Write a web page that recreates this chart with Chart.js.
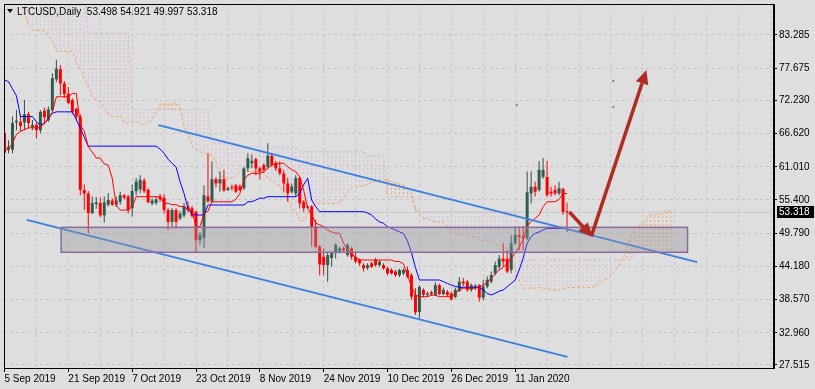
<!DOCTYPE html>
<html>
<head>
<meta charset="utf-8">
<script src="https://cdn.jsdelivr.net/npm/chart.js@4.4.0/dist/chart.umd.min.js"></script>
<style>
  html, body { margin: 0; padding: 0; background: #dedede; }
  #wrap { width: 815px; height: 389px; }
</style>
</head>
<body>
<div id="wrap"><canvas id="chart" width="815" height="389"></canvas></div>
<script>
// LTCUSD daily bars, index 0 = 5 Sep 2019, last bar (141) = 24 Jan 2020
const openP = [
  66.7, 63.9, 63.9, 68.5, 68.6, 68.5, 69.9, 67.7, 68.1, 67.2,
  70.5, 68.9, 70.6, 75.8, 77.5, 75.1, 73.4, 72.3, 70.8, 69.5,
  57.1, 56.5, 53.2, 54.7, 54.9, 52.8, 54.6, 55.3, 54.6, 55.1,
  56.2, 56.0, 54.0, 56.9, 57.2, 58.7, 57.1, 54.8, 54.9, 56.0,
  55.8, 53.7, 51.7, 53.7, 52.3, 52.8, 54.3, 54.0, 53.4, 48.6,
  49.0, 56.0, 55.1, 58.9, 58.2, 58.9, 57.1, 57.6, 57.9, 57.7,
  57.4, 60.75, 61.6, 62.3, 60.75, 61.3, 61.0, 62.9, 61.6, 60.75,
  59.9, 58.2, 56.8, 56.5, 59.1, 55.1, 54.1, 54.3, 50.9, 47.5,
  45.8, 44.4, 45.6, 46.4, 46.66, 47.24, 46.1, 47.24, 45.8, 45.26,
  44.4, 43.9, 44.7, 45.3, 44.4, 44.4, 43.85, 43.57, 43.3, 42.7,
  43.0, 43.57, 42.7, 39.35, 36.5, 40.2, 39.35, 39.8, 39.35, 41.0,
  39.5, 39.9, 39.6, 39.0, 40.0, 41.6, 41.6, 40.2, 40.5, 41.0,
  38.9, 40.75, 41.6, 43.0, 44.1, 45.5, 45.5, 43.6, 48.1, 49.5,
  49.3, 48.9, 56.5, 57.65, 57.1, 59.3, 59.3, 56.8, 57.1, 56.5,
  57.3, 53.498
];
const highP = [
  67.2, 65.5, 69.5, 70.6, 69.8, 72.3, 70.3, 68.9, 68.5, 70.6,
  71.0, 71.2, 76.8, 79.1, 78.2, 75.5, 74.5, 72.6, 71.0, 69.9,
  58.0, 56.9, 56.0, 55.9, 55.8, 56.0, 56.6, 55.7, 56.0, 56.8,
  56.4, 56.3, 58.0, 59.1, 59.6, 59.1, 57.4, 55.7, 56.0, 56.4,
  56.4, 54.0, 54.0, 54.0, 53.5, 54.9, 55.2, 54.4, 53.6, 50.0,
  57.9, 63.3, 61.9, 59.3, 60.2, 60.5, 57.7, 58.0, 58.1, 58.0,
  61.0, 63.3, 63.1, 62.6, 61.0, 61.6, 65.0, 63.1, 62.0, 61.9,
  60.47, 59.1, 58.2, 59.6, 59.3, 55.4, 54.5, 54.5, 52.0, 47.8,
  47.2, 46.66, 46.66, 48.1, 47.5, 47.5, 48.1, 47.5, 46.66, 45.5,
  44.7, 44.7, 44.97, 45.6, 45.2, 44.7, 44.1, 43.85, 43.6, 43.8,
  43.85, 44.1, 43.0, 40.5, 41.0, 40.5, 39.9, 40.1, 41.5, 41.3,
  40.6, 40.2, 39.9, 40.6, 42.4, 42.2, 41.9, 41.3, 41.2, 41.2,
  41.9, 42.5, 43.3, 45.0, 46.1, 48.1, 47.0, 49.5, 50.9, 50.9,
  50.9, 60.2, 60.2, 58.5, 62.0, 62.5, 62.0, 57.65, 57.9, 58.5,
  57.4, 54.92
];
const lowP = [
  63.0, 63.3, 63.3, 67.2, 66.9, 67.2, 67.5, 67.2, 65.8, 66.7,
  68.2, 68.6, 70.3, 75.3, 73.1, 72.7, 71.6, 69.9, 68.8, 56.2,
  53.7, 49.8, 53.0, 53.9, 52.5, 51.6, 54.3, 54.4, 54.2, 54.6,
  55.5, 53.1, 52.6, 56.2, 56.6, 56.6, 54.9, 54.5, 54.6, 55.1,
  53.1, 50.3, 50.6, 50.5, 52.0, 52.5, 53.3, 52.4, 46.5, 47.8,
  47.3, 54.9, 55.0, 57.5, 56.8, 56.8, 56.9, 57.0, 56.6, 56.9,
  57.1, 60.2, 60.8, 59.6, 58.9, 60.0, 60.75, 61.0, 60.3, 59.6,
  56.8, 55.1, 56.5, 55.96, 54.0, 53.4, 53.9, 47.5, 47.2, 42.7,
  42.7, 41.6, 44.1, 45.5, 46.4, 46.6, 45.8, 45.3, 44.7, 44.3,
  43.3, 43.57, 43.9, 44.1, 44.1, 43.6, 42.7, 42.8, 42.4, 42.4,
  42.7, 42.2, 38.5, 35.97, 35.4, 38.9, 39.0, 39.2, 39.2, 39.3,
  39.3, 39.0, 38.4, 38.8, 39.9, 40.8, 39.9, 39.9, 40.2, 38.2,
  38.5, 40.5, 41.3, 42.7, 43.6, 44.1, 43.0, 43.0, 47.8, 46.9,
  46.9, 48.6, 54.8, 56.0, 56.8, 59.0, 55.96, 55.96, 56.2, 56.2,
  52.9, 49.997
];
const closeP = [
  63.35, 64.4, 68.4, 68.8, 67.9, 69.9, 68.4, 68.1, 67.2, 70.3,
  69.4, 70.7, 76.0, 77.6, 75.1, 73.3, 71.8, 70.3, 69.5, 57.1,
  56.5, 53.2, 54.9, 55.0, 52.8, 55.0, 55.4, 54.6, 55.3, 56.2,
  55.8, 53.7, 56.9, 58.5, 58.8, 56.9, 55.0, 55.3, 55.5, 55.5,
  53.7, 51.7, 53.7, 51.7, 53.1, 54.3, 53.7, 52.7, 48.6, 49.5,
  56.2, 55.2, 58.9, 58.2, 58.9, 57.0, 57.4, 57.4, 56.8, 57.1,
  60.75, 62.45, 62.0, 60.75, 60.2, 60.5, 62.9, 61.3, 60.75, 59.9,
  58.2, 56.5, 57.65, 59.1, 54.84, 54.0, 54.3, 50.9, 47.5, 44.5,
  44.4, 46.1, 46.4, 47.8, 47.24, 46.9, 47.8, 45.8, 45.0, 44.7,
  43.85, 44.4, 44.1, 44.4, 44.97, 43.85, 43.0, 43.0, 42.7, 43.57,
  43.57, 42.44, 39.06, 36.4, 40.7, 39.4, 39.6, 39.5, 41.0, 39.5,
  40.2, 39.35, 38.6, 40.2, 41.6, 41.3, 40.2, 41.0, 40.9, 38.9,
  40.75, 41.9, 42.7, 44.4, 45.5, 45.0, 43.3, 48.1, 49.5, 49.2,
  48.9, 56.7, 57.65, 56.8, 60.5, 60.5, 56.2, 56.5, 56.5, 57.4,
  53.4, 53.318
];

// Ichimoku: tenkan (red), kijun (blue)
const tenkan = [
  64.0, 64.0, 65.0, 66.5, 67.0, 67.3, 67.6, 67.6, 67.6, 67.6,
  68.5, 69.0, 70.3, 72.85, 72.85, 72.85, 72.85, 73.4, 73.4, 68.1,
  67.0, 64.4, 63.5, 62.5, 62.5, 61.5, 61.3, 59.1, 54.5, 53.7,
  53.7, 53.7, 54.3, 55.96, 55.96, 55.96, 55.96, 55.96, 55.96, 55.96,
  54.84, 54.84, 54.6, 54.6, 54.3, 54.3, 53.7, 53.7, 50.9, 50.9,
  53.1, 53.5, 55.1, 55.1, 55.1, 55.1, 55.1, 55.1, 55.5, 56.5,
  58.8, 59.6, 59.9, 59.9, 59.9, 60.2, 60.75, 61.3, 61.6, 61.6,
  61.6, 61.0, 60.5, 60.2, 59.3, 57.0, 54.0, 52.9, 51.5, 51.2,
  50.9, 50.3, 50.0, 49.8, 49.77, 48.1, 47.0, 46.4, 45.6, 45.3,
  45.26, 45.26, 45.26, 45.26, 45.26, 45.26, 45.26, 45.26, 45.0, 45.0,
  44.6, 42.7, 40.75, 39.35, 39.06, 39.06, 39.06, 39.3, 39.3, 39.06,
  39.06, 39.06, 39.06, 39.6, 40.2, 40.5, 40.5, 40.5, 40.5, 40.75,
  41.0, 41.5, 42.2, 42.9, 43.57, 44.0, 44.7, 45.5, 46.4, 47.5,
  48.64, 51.0, 51.74, 52.3, 52.86, 54.27, 55.1, 55.1, 55.1, 55.5,
  56.5, 56.5
];
const kijun = [
  75.68, 75.4, 74.2, 73.0, 69.5, 69.5, 69.5, 69.5, 68.6, 68.07,
  68.35, 69.2, 70.05, 70.3, 70.3, 70.3, 70.3, 70.3, 69.0, 67.5,
  66.0, 64.5, 64.5, 64.5, 64.5, 64.5, 64.5, 64.5, 64.5, 64.5,
  64.5, 64.5, 64.5, 64.5, 64.5, 64.5, 64.5, 64.5, 64.5, 64.0,
  63.3, 62.3, 61.6, 61.0, 58.5, 56.5, 54.0, 53.0, 52.86, 52.86,
  52.86, 54.55, 54.55, 54.55, 54.55, 54.55, 54.55, 54.55, 54.55, 54.55,
  54.55, 55.1, 55.1, 55.4, 55.7, 55.7, 55.96, 55.96, 55.96, 55.96,
  55.96, 55.96, 55.96, 55.96, 56.5, 58.0, 59.07, 55.4, 54.27, 53.43,
  53.43, 53.43, 53.43, 53.43, 53.43, 53.43, 53.43, 53.43, 53.43, 53.43,
  53.43, 53.2, 52.86, 52.2, 51.7, 51.46, 50.9, 50.6, 50.33, 50.0,
  49.77, 48.5, 46.5, 44.0, 41.88, 41.88, 41.88, 41.88, 41.88, 41.88,
  41.6, 41.3, 41.03, 40.8, 40.64, 40.64, 40.64, 40.64, 40.64, 40.64,
  40.2, 39.6, 39.35, 39.63, 40.0, 40.19, 40.75, 41.3, 41.88, 43.57,
  45.55, 48.08, 49.2, 49.77, 50.0, 50.33, 50.6, 50.6, 50.6, 50.6,
  50.6, 50.6
];
// cloud edges, running 26 bars past the last candle (index 0..167)
const spanA = [
  90, 90, 90, 90, 89, 87, 85.0, 84.1, 84.1, 84.0,
  84.0, 83.2, 82.4, 80.5, 80.5, 80.5, 80.5, 80.5, 78.6, 77.5,
  76.0, 74.5, 72.8, 72.3, 72.0, 71.0, 69.8, 69.5, 69.5, 69.7,
  68.5, 68.4, 68.6, 68.6, 68.3, 68.0, 68.4, 69.0, 70.1, 71.6,
  71.6, 71.6, 71.6, 71.9, 71.2, 67.8, 66.5, 64.5, 64.0, 63.5,
  63.5, 63.0, 62.9, 61.8, 59.5, 59.1, 59.1, 59.1, 59.4, 60.2,
  60.2, 60.2, 60.2, 60.2, 60.2, 60.0, 59.1, 58.6, 58.1, 57.8,
  56.4, 55.4, 53.9, 53.4, 51.9, 51.9, 53.0, 54.0, 54.8, 54.8,
  54.8, 54.8, 54.8, 54.8, 55.0, 55.5, 56.7, 57.4, 57.5, 57.7,
  57.8, 58.0, 58.4, 58.6, 58.8, 58.8, 58.8, 58.5, 58.2, 58.1,
  57.9, 57.5, 56.5, 54.2, 52.9, 52.3, 52.2, 51.9, 51.7, 51.6,
  51.6, 50.8, 50.2, 49.9, 49.5, 49.4, 49.4, 49.2, 49.1, 48.7,
  48.5, 48.4, 48.1, 47.9, 47.7, 47.5, 47.2, 45.6, 43.6, 41.7,
  40.5, 40.5, 40.5, 40.5, 40.6, 40.5, 40.3, 40.2, 40.1, 40.2,
  40.4, 40.6, 40.6, 40.6, 40.6, 40.7, 40.6, 40.6, 40.8, 41.3,
  41.8, 42.1, 42.7, 43.4, 44.1, 45.5, 47.1, 49.5, 50.5, 51.0,
  51.4, 52.3, 52.9, 52.9, 52.9, 53.1, 53.6, 53.6
];
const spanB = [
  90, 90, 90, 90, 90, 90, 90, 90, 90, 90,
  90, 90, 90, 90, 90, 90, 90, 90, 90, 90,
  90, 83.6, 83.6, 83.6, 83.6, 83.6, 83.6, 83.6, 83.6, 83.6,
  83.6, 83.6, 70.7, 70.7, 70.7, 70.7, 70.7, 70.7, 70.7, 70.7,
  70.7, 70.7, 70.7, 70.7, 70.7, 70.7, 70.7, 70.7, 70.7, 70.7,
  70.7, 70.7, 65.0, 65.0, 65.0, 65.0, 65.0, 65.0, 65.0, 64.4,
  64.4, 64.4, 64.4, 64.4, 64.4, 64.4, 64.4, 64.4, 64.4, 64.4,
  64.4, 64.4, 64.4, 64.4, 63.6, 63.6, 63.6, 63.6, 63.6, 63.6,
  63.6, 63.6, 63.6, 63.6, 63.6, 63.6, 63.6, 63.6, 63.6, 63.6,
  63.6, 62.9, 62.9, 62.9, 62.9, 62.9, 55.9, 55.9, 55.9, 55.9,
  55.9, 55.9, 55.9, 53.4, 53.4, 53.4, 53.4, 53.4, 53.4, 53.4,
  53.4, 53.4, 53.4, 53.4, 53.4, 53.4, 53.4, 53.4, 53.4, 53.4,
  53.4, 53.4, 53.4, 53.4, 53.4, 53.4, 53.4, 53.4, 53.4, 49.5,
  45.3, 45.3, 45.3, 45.3, 45.3, 45.3, 45.3, 45.3, 45.3, 45.3,
  45.3, 45.3, 45.3, 45.3, 45.3, 45.3, 45.3, 45.3, 45.3, 45.3,
  45.3, 45.3, 45.3, 45.3, 45.3, 45.3, 45.3, 45.3, 46.5, 46.5,
  46.5, 46.5, 46.5, 46.5, 46.5, 46.5, 46.5, 46.5
];

// axis labels
const dateLabels = ['5 Sep 2019', '21 Sep 2019', '7 Oct 2019', '23 Oct 2019', '8 Nov 2019',
                    '24 Nov 2019', '10 Dec 2019', '26 Dec 2019', '11 Jan 2020'];
const priceTicks = [27.515, 32.960, 38.570, 44.180, 49.790, 55.400, 61.010, 66.620, 72.230, 77.675, 83.285];
const lastPrice = 53.318;

// drawn objects, in (bar index, price)
const channelUpper = [{x: 38.6, y: 68.07}, {x: 173.6, y: 44.92}];
const channelLower = [{x: 5.6, y: 52.02}, {x: 141.1, y: 28.87}];
const zone = {from: 14.2, to: 171.2, low: 46.56, high: 50.78};
const arrows = [
  {from: [141.6, 53.37], to: [147.4, 49.15]},
  {from: [147.1, 49.3], to: [160.9, 77.37]}
];
const marks = [{x: 128.4, y: 71.45}, {x: 152.6, y: 75.5}, {x: 152.6, y: 71.1}];

const BULL = '#2f5c4d', BULL_WICK = '#2f4f4f', BEAR = '#ff0000';
const isBull = i => closeP[i] >= openP[i];

function hatch(color) {
  const c = document.createElement('canvas');
  c.width = 1; c.height = 4;
  const g = c.getContext('2d');
  g.fillStyle = color;
  g.fillRect(0, 0, 1, 2);
  return g.createPattern(c, 'repeat');
}
const hatchPink = hatch('#d8c0d8');
const hatchOrange = hatch('#f4a460');

function drawArrow(ctx, x0, y0, x1, y1) {
  const ang = Math.atan2(y1 - y0, x1 - x0);
  const head = 14, half = 6.5;
  const bx = x1 - head * Math.cos(ang), by = y1 - head * Math.sin(ang);
  ctx.beginPath(); ctx.moveTo(x0, y0); ctx.lineTo(bx, by); ctx.stroke();
  ctx.beginPath(); ctx.moveTo(x1, y1);
  ctx.lineTo(bx + half * Math.sin(ang), by - half * Math.cos(ang));
  ctx.lineTo(bx - half * Math.sin(ang), by + half * Math.cos(ang));
  ctx.closePath(); ctx.fill();
}

const overlay = {
  id: 'overlay',
  beforeDraw(chart) {
    const ctx = chart.ctx;
    ctx.save();
    ctx.fillStyle = '#dedede';
    ctx.fillRect(0, 0, chart.width, chart.height);
    ctx.restore();
  },
  afterDatasetsDraw(chart) {
    const {ctx, chartArea: a, scales: {x, y}} = chart;
    ctx.save();
    ctx.beginPath(); ctx.rect(a.left, a.top, a.right - a.left, a.bottom - a.top); ctx.clip();
    // support zone
    const x0 = x.getPixelForValue(zone.from), x1 = x.getPixelForValue(zone.to);
    const y0 = y.getPixelForValue(zone.high), y1 = y.getPixelForValue(zone.low);
    ctx.fillStyle = 'rgba(150,150,158,0.38)';
    ctx.fillRect(x0, y0, x1 - x0, y1 - y0);
    ctx.strokeStyle = '#8c6c9c'; ctx.lineWidth = 1.5;
    ctx.strokeRect(x0, y0, x1 - x0, y1 - y0);
    // arrows
    ctx.strokeStyle = '#b02c22'; ctx.fillStyle = '#b02c22'; ctx.lineWidth = 3.5;
    arrows.forEach(ar => drawArrow(ctx,
      x.getPixelForValue(ar.from[0]), y.getPixelForValue(ar.from[1]),
      x.getPixelForValue(ar.to[0]), y.getPixelForValue(ar.to[1])));
    ctx.restore();
  },
  afterDraw(chart) {
    const {ctx, chartArea: a, scales: {y}} = chart;
    ctx.save();
    ctx.strokeStyle = '#000'; ctx.lineWidth = 1;
    ctx.strokeRect(a.left + 0.5, a.top + 0.5, a.right - a.left - 1, a.bottom - a.top);
    // symbol caption
    ctx.fillStyle = '#000';
    ctx.beginPath(); ctx.moveTo(7, 9); ctx.lineTo(13, 9); ctx.lineTo(10, 13); ctx.closePath(); ctx.fill();
    ctx.font = '10px "Liberation Sans", Arial, sans-serif';
    ctx.textBaseline = 'alphabetic';
    ctx.fillText('LTCUSD,Daily  53.498 54.921 49.997 53.318', 17, 15);
    // last price tag
    const py = Math.round(y.getPixelForValue(lastPrice));
    ctx.fillStyle = '#000';
    ctx.fillRect(a.right + 3, py - 6, 37, 12);
    ctx.fillStyle = '#fff';
    ctx.textBaseline = 'middle';
    ctx.fillText(lastPrice.toFixed(3), a.right + 5, py + 0.5);
    ctx.restore();
  }
};

const xy = arr => arr.map((v, i) => ({x: i, y: v}));

new Chart(document.getElementById('chart'), {
  type: 'bar',
  data: {
    datasets: [
      { type: 'line', data: [{x: -0.125, y: lastPrice}, {x: 192.875, y: lastPrice}],
        borderColor: '#c6c6c6', borderWidth: 1, pointRadius: 0, order: 11 },
      { type: 'bar', data: spanA.map((a, i) => ({x: i, y: [a, spanB[i]]})),
        backgroundColor: c => spanA[c.dataIndex] > spanB[c.dataIndex] ? hatchOrange : hatchPink,
        barThickness: 1, grouped: false, inflateAmount: 0, order: 10 },
      { type: 'line', data: xy(spanB), borderColor: '#d6bcd6', borderWidth: 1,
        borderDash: [3, 2], pointRadius: 0, order: 9 },
      { type: 'line', data: xy(spanA), borderColor: '#f4a460', borderWidth: 1,
        borderDash: [3, 2], pointRadius: 0, order: 8 },
      { type: 'bar', data: highP.map((h, i) => ({x: i, y: [lowP[i], h]})),
        backgroundColor: c => isBull(c.dataIndex) ? BULL_WICK : BEAR,
        barThickness: 1, grouped: false, inflateAmount: 0, order: 7 },
      { type: 'bar', data: openP.map((o, i) => ({x: i, y: [o, closeP[i]]})),
        backgroundColor: c => isBull(c.dataIndex) ? BULL : BEAR,
        barThickness: 3, minBarLength: 1, grouped: false, inflateAmount: 0, order: 6 },
      { type: 'line', data: xy(kijun), borderColor: '#0000ff', borderWidth: 1, pointRadius: 0, order: 5 },
      { type: 'line', data: xy(tenkan), borderColor: '#ff0000', borderWidth: 1, pointRadius: 0, order: 4 },
      { type: 'line', data: channelUpper, borderColor: '#3b7fe0', borderWidth: 1.8, pointRadius: 0, order: 3 },
      { type: 'line', data: channelLower, borderColor: '#3b7fe0', borderWidth: 1.8, pointRadius: 0, order: 3 },
      { type: 'line', data: marks, showLine: false, pointRadius: 1.2, pointBorderWidth: 0,
        pointBackgroundColor: '#8a8a8a', order: 2 }
    ]
  },
  options: {
    responsive: false,
    animation: false,
    events: [],
    layout: { padding: { left: 2, top: 4, right: 0, bottom: 0 } },
    plugins: { legend: { display: false }, tooltip: { enabled: false } },
    font: { family: '"Liberation Sans", Arial, sans-serif', size: 10 },
    scales: {
      x: {
        type: 'linear', min: -0.125, max: 192.875, offset: false,
        afterBuildTicks: s => { s.ticks = []; for (let v = 0; v <= 192; v += 8) s.ticks.push({value: v}); },
        afterFit: s => { s.height = 21; s.paddingLeft = 0; s.paddingRight = 0; },
        grid: { offset: false, color: '#c6c6c6', tickLength: 4,
                tickColor: c => (c.tick && c.tick.value % 16 === 0 && c.tick.value <= 128) ? '#000' : 'rgba(0,0,0,0)' },
        border: { display: true, color: '#000', dash: [3, 3] },
        ticks: {
          autoSkip: false, maxRotation: 0, minRotation: 0, align: 'start', padding: 1,
          color: '#000', font: { family: '"Liberation Sans", Arial, sans-serif', size: 10 },
          callback: v => (v % 16 === 0 && v / 16 < dateLabels.length) ? dateLabels[v / 16] : ''
        }
      },
      y: {
        type: 'linear', position: 'right', min: 27.006, max: 88.524,
        afterBuildTicks: s => { s.ticks = priceTicks.map(v => ({value: v})); },
        afterFit: s => { s.width = 41; s.paddingTop = 0; s.paddingBottom = 0; },
        grid: { color: '#c6c6c6', tickLength: 3, tickColor: '#000' },
        border: { display: true, color: '#000', dash: [3, 3] },
        ticks: {
          padding: 2, color: '#000', font: { family: '"Liberation Sans", Arial, sans-serif', size: 10 },
          callback: v => Number(v).toFixed(3)
        }
      }
    }
  },
  plugins: [overlay]
});
</script>
</body>
</html>
